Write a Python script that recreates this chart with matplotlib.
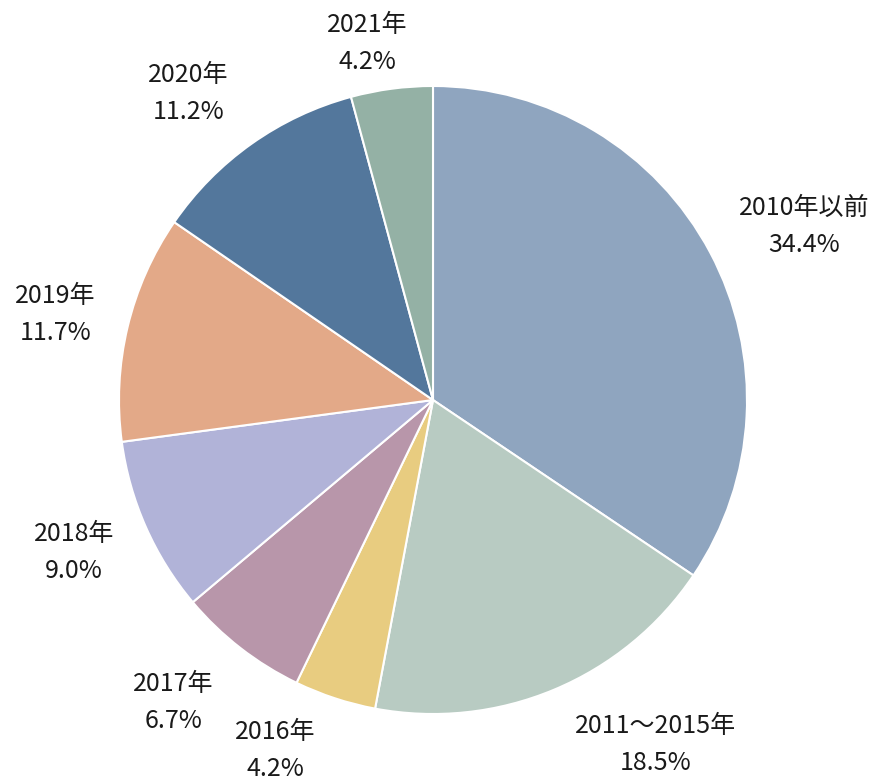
import numpy as np
import matplotlib
matplotlib.use("Agg")
import matplotlib.pyplot as plt

plt.rcParams['font.family'] = ['Noto Sans CJK JP', 'DejaVu Sans']

categories = ["2010年以前", "2011～2015年", "2016年", "2017年", "2018年", "2019年", "2020年", "2021年"]
values = [34.4, 18.5, 4.2, 6.7, 9.0, 11.7, 11.2, 4.2]
colors = ["#8FA5BF", "#B8CBC2", "#E8CC80", "#B896AA", "#B1B3D8", "#E3A988", "#53779C", "#94B1A5"]

# label placement tweaks (distance factor, angle offset in degrees)
label_dist = [1.305, 1.306, 1.224, 1.268, 1.242, 1.233, 1.248, 1.153]
label_dang = [-3.0, 10.2, -6.0, -2.8, -0.9, 0.6, 3.3, 2.9]

fig = plt.figure(figsize=(8.84, 7.84), dpi=100)
W, H = 884, 784
cx, cy, r = 433, 384, 314
ax = fig.add_axes([(cx - r) / W, (cy - r) / H, 2 * r / W, 2 * r / H])

wedges, _ = ax.pie(values, colors=colors, startangle=90, counterclock=False, radius=1,
                   wedgeprops=dict(edgecolor='white', linewidth=1.5))
ax.set_xlim(-1, 1)
ax.set_ylim(-1, 1)
ax.set_aspect('equal')
ax.axis('off')

total = sum(values)
cum = 0
for cat, v, d, da in zip(categories, values, label_dist, label_dang):
    mid = 90 - (cum + v / 2) / total * 360 + da
    cum += v
    t = np.deg2rad(mid)
    ax.text(d * np.cos(t), d * np.sin(t), f"{cat}\n{v:.1f}%", ha='center', va='center',
            fontsize=18, linespacing=1.55, color='#1a1a1a', clip_on=False)

fig.savefig("out.png", dpi=100)
